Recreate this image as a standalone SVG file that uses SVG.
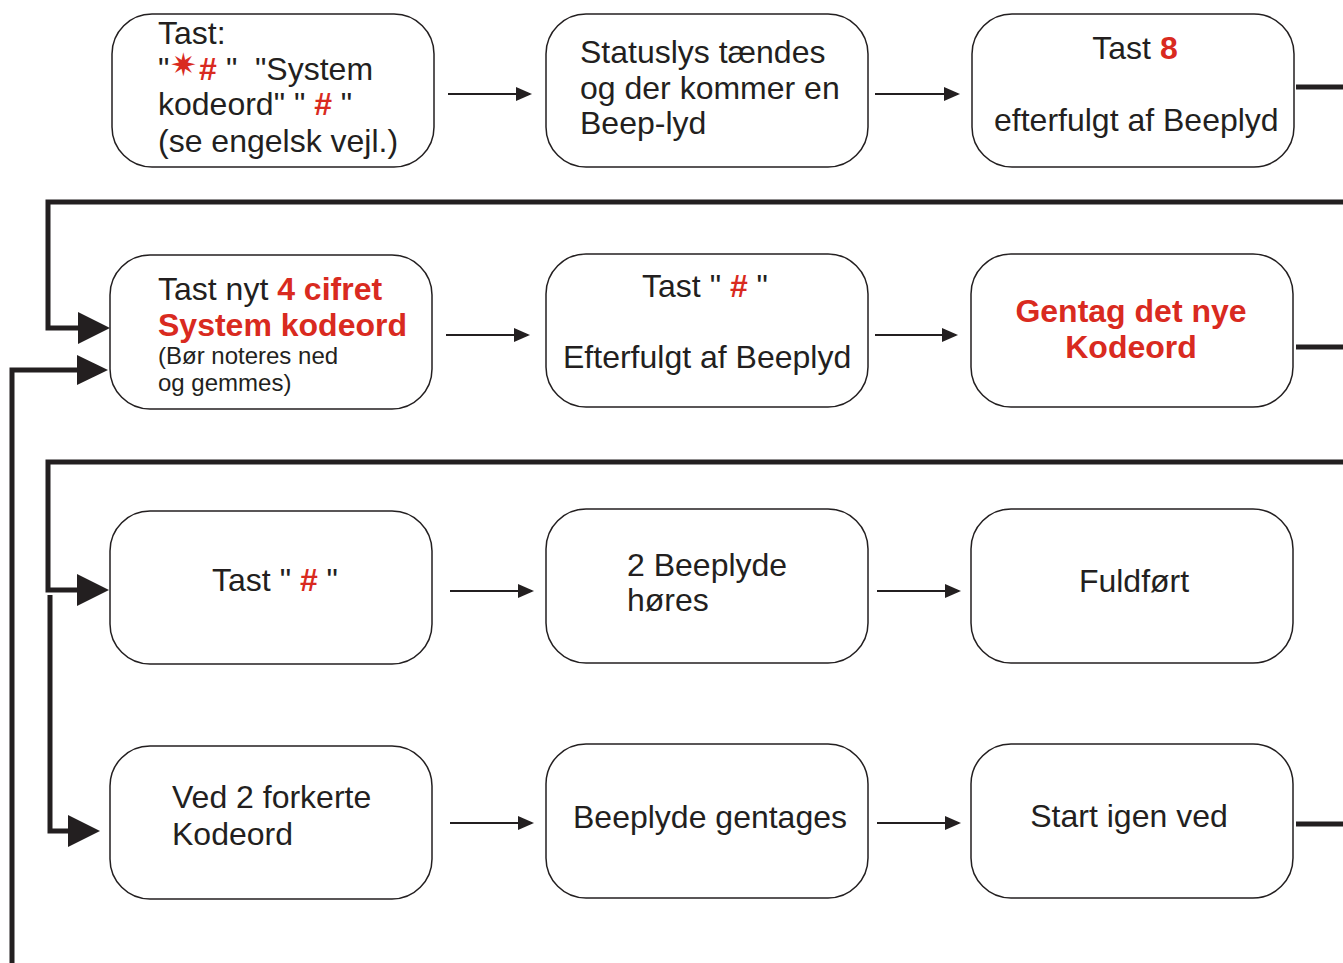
<svg xmlns="http://www.w3.org/2000/svg" width="1343" height="963" viewBox="0 0 1343 963">
<style>
.box{fill:#fff;stroke:#231f20;stroke-width:1.5}
.t{font-family:"Liberation Sans",Arial,sans-serif;font-size:32px;fill:#231f20}
.s{font-size:24px}
.r{fill:#d92a20;font-weight:bold}
.thin{stroke:#231f20;stroke-width:2;fill:none}
.thick{stroke:#231f20;stroke-width:5;fill:none}
.head{fill:#231f20}
</style>
<defs>
<marker id="ah" markerUnits="userSpaceOnUse" markerWidth="16" markerHeight="14" refX="14" refY="7" orient="auto">
<path d="M0,0 L16,7 L0,14 z" fill="#231f20"/>
</marker>
</defs>
<rect width="1343" height="963" fill="#fff"/>

<g id="connectors">
<line class="thin" x1="448" y1="94" x2="530" y2="94" marker-end="url(#ah)"/>
<line class="thin" x1="875" y1="94" x2="958" y2="94" marker-end="url(#ah)"/>
<line class="thick" x1="1296" y1="87" x2="1343" y2="87"/>
<polyline class="thick" points="1343,202 48,202 48,328 80,328"/>
<polygon class="head" points="78,312 110,328 78,344"/>
<polyline class="thick" points="12,963 12,370 80,370"/>
<polygon class="head" points="77,355 108,370 77,385"/>
<line class="thin" x1="446" y1="335" x2="528" y2="335" marker-end="url(#ah)"/>
<line class="thin" x1="875" y1="335" x2="956" y2="335" marker-end="url(#ah)"/>
<line class="thick" x1="1296" y1="347" x2="1343" y2="347"/>
<polyline class="thick" points="1343,462 48,462 48,590 80,590"/>
<polygon class="head" points="77,574 109,590 77,606"/>
<polyline class="thick" points="50,595 50,831 70,831"/>
<polygon class="head" points="68,815 100,831 68,847"/>
<line class="thin" x1="450" y1="591" x2="532" y2="591" marker-end="url(#ah)"/>
<line class="thin" x1="877" y1="591" x2="959" y2="591" marker-end="url(#ah)"/>
<line class="thin" x1="450" y1="823" x2="532" y2="823" marker-end="url(#ah)"/>
<line class="thin" x1="877" y1="823" x2="959" y2="823" marker-end="url(#ah)"/>
<line class="thick" x1="1296" y1="824" x2="1343" y2="824"/>
</g>

<g id="n1">
<rect class="box" x="112" y="14" width="322" height="153" rx="40"/>
<text class="t" x="158" y="44">Tast:</text>
<text class="t" x="158" y="80">"<tspan x="170" y="76" style="font-family:'DejaVu Sans',sans-serif;font-size:32px;fill:#d92a20">✷</tspan><tspan class="r" x="199" y="80">#</tspan><tspan x="226">"</tspan><tspan x="255">"System</tspan></text>
<text class="t" x="158" y="115" xml:space="preserve">kodeord" " <tspan class="r">#</tspan> "</text>
<text class="t" x="158" y="152">(se engelsk vejl.)</text>
</g>

<g id="n2">
<rect class="box" x="546" y="14" width="322" height="153" rx="40"/>
<text class="t" x="580" y="63">Statuslys tændes</text>
<text class="t" x="580" y="99">og der kommer en</text>
<text class="t" x="580" y="134">Beep-lyd</text>
</g>

<g id="n3">
<rect class="box" x="972" y="14" width="322" height="153" rx="40"/>
<text class="t" x="1135" y="59" text-anchor="middle">Tast <tspan class="r">8</tspan></text>
<text class="t" x="994" y="131">efterfulgt af Beeplyd</text>
</g>

<g id="n4">
<rect class="box" x="110" y="255" width="322" height="154" rx="40"/>
<text class="t" x="158" y="300">Tast nyt <tspan class="r">4 cifret</tspan></text>
<text class="t r" x="158" y="336">System kodeord</text>
<text class="t s" x="158" y="364">(Bør noteres ned</text>
<text class="t s" x="158" y="391">og gemmes)</text>
</g>

<g id="n5">
<rect class="box" x="546" y="254" width="322" height="153" rx="40"/>
<text class="t" x="705" y="297" text-anchor="middle" xml:space="preserve">Tast " <tspan class="r">#</tspan> "</text>
<text class="t" x="563" y="368">Efterfulgt af Beeplyd</text>
</g>

<g id="n6">
<rect class="box" x="971" y="254" width="322" height="153" rx="40"/>
<text class="t r" x="1131" y="322" text-anchor="middle">Gentag det nye</text>
<text class="t r" x="1131" y="358" text-anchor="middle">Kodeord</text>
</g>

<g id="n7">
<rect class="box" x="110" y="511" width="322" height="153" rx="40"/>
<text class="t" x="275" y="591" text-anchor="middle" xml:space="preserve">Tast " <tspan class="r">#</tspan> "</text>
</g>

<g id="n8">
<rect class="box" x="546" y="509" width="322" height="154" rx="40"/>
<text class="t" x="627" y="576">2 Beeplyde</text>
<text class="t" x="627" y="611">høres</text>
</g>

<g id="n9">
<rect class="box" x="971" y="509" width="322" height="154" rx="40"/>
<text class="t" x="1134" y="592" text-anchor="middle">Fuldført</text>
</g>

<g id="n10">
<rect class="box" x="110" y="746" width="322" height="153" rx="40"/>
<text class="t" x="172" y="808">Ved 2 forkerte</text>
<text class="t" x="172" y="845">Kodeord</text>
</g>

<g id="n11">
<rect class="box" x="546" y="744" width="322" height="154" rx="40"/>
<text class="t" x="710" y="828" text-anchor="middle">Beeplyde gentages</text>
</g>

<g id="n12">
<rect class="box" x="971" y="744" width="322" height="154" rx="40"/>
<text class="t" x="1129" y="827" text-anchor="middle">Start igen ved</text>
</g>
</svg>
